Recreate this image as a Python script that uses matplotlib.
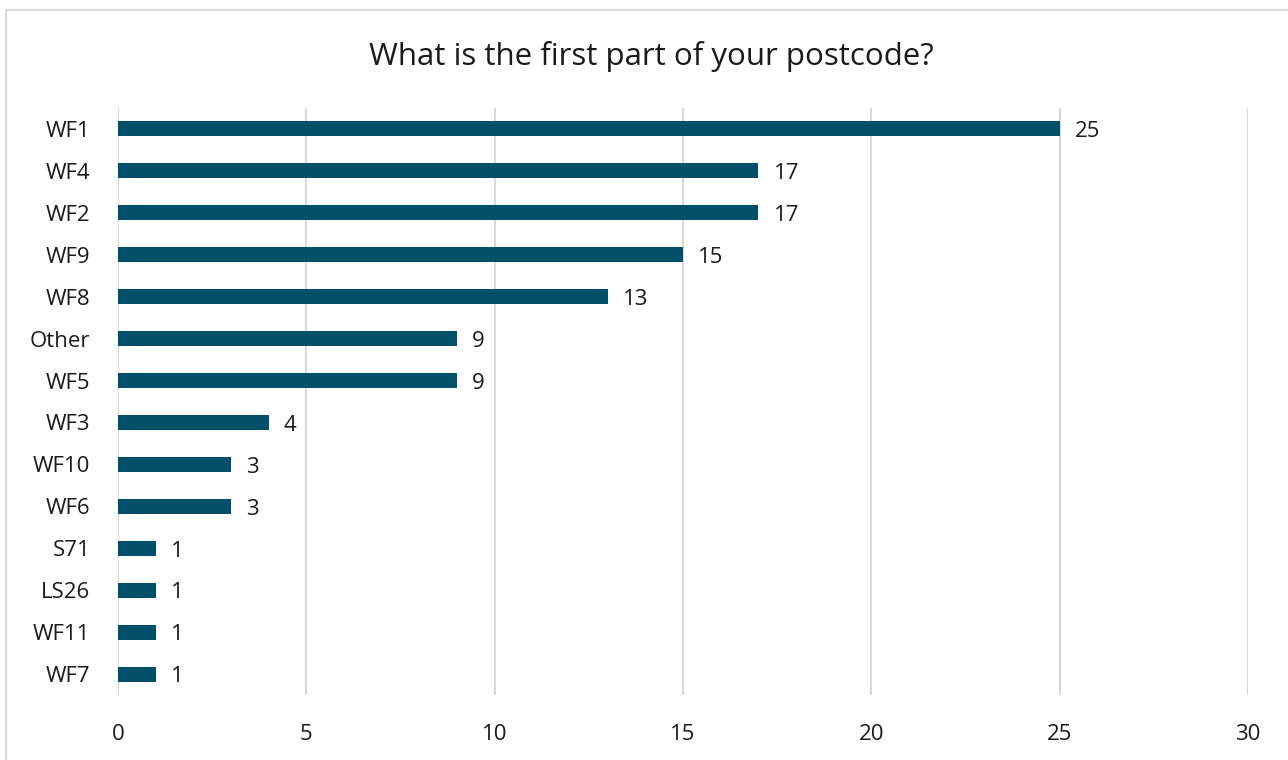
import matplotlib
matplotlib.use("Agg")
import matplotlib.pyplot as plt
from matplotlib.patches import Rectangle

plt.rcParams['font.family'] = ['Open Sans', 'DejaVu Sans']

categories = ["WF1", "WF4", "WF2", "WF9", "WF8", "Other", "WF5", "WF3",
              "WF10", "WF6", "S71", "LS26", "WF11", "WF7"]
counts = [25, 17, 17, 15, 13, 9, 9, 4, 3, 3, 1, 1, 1, 1]
title = "What is the first part of your postcode?"

fig = plt.figure(figsize=(12.88, 7.6), dpi=100)
ax = fig.add_axes([0.0916, 0.0855, 0.8774, 0.7725])

# chart frame
fig.patches.append(Rectangle((6 / 1288, -0.05), 1.1, 1 - 10 / 760 + 0.05,
                             transform=fig.transFigure, fill=False,
                             edgecolor="#d9d9d9", linewidth=1.5))

y = range(len(categories))
ax.barh(y, counts, height=0.36, color="#03506a", zorder=3)
for i, v in enumerate(counts):
    ax.annotate(str(v), (v, i), xytext=(11, -2), textcoords="offset points",
                va="center", ha="left", fontsize=16, color="#1a1a1a")

ax.set_xlim(0, 30)
ax.set_ylim(len(categories) - 0.5, -0.5)
ax.set_xticks(range(0, 31, 5))
ax.set_yticks(list(y))
ax.set_yticklabels(categories)
ax.tick_params(axis="both", length=0, labelsize=16, colors="#1a1a1a")
ax.tick_params(axis="x", pad=21)
ax.tick_params(axis="y", pad=20)
ax.grid(axis="x", color="#d9d9d9", linewidth=1.5, zorder=0)
for s in ax.spines.values():
    s.set_visible(False)

fig.text(0.506, 0.925, title, ha="center", va="center", fontsize=22.5,
         color="#1a1a1a")

fig.savefig("out.png", dpi=100)
